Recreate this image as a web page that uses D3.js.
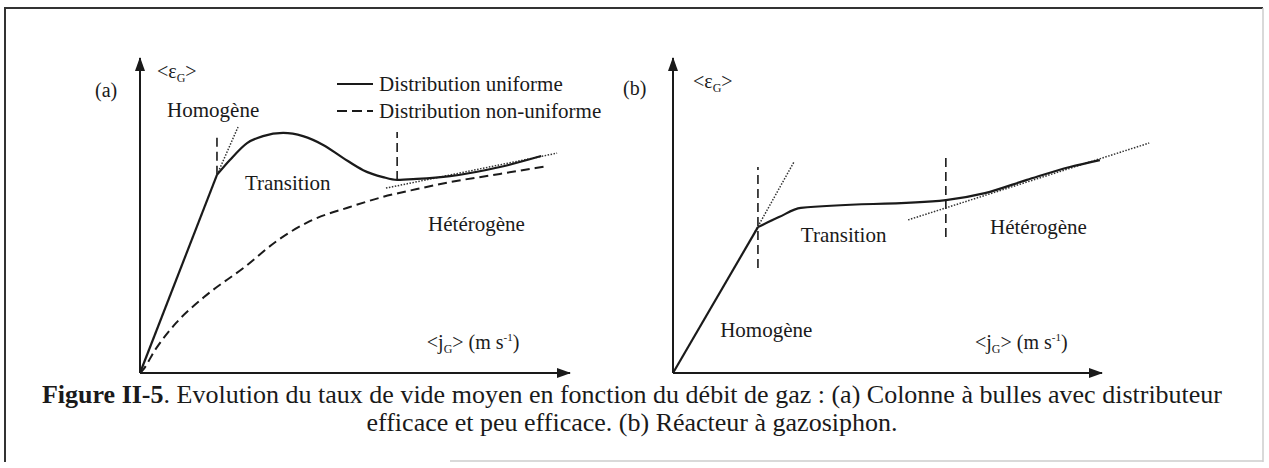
<!DOCTYPE html>
<html>
<head>
<meta charset="utf-8">
<script src="https://cdn.jsdelivr.net/npm/d3@7"></script>
<style>
  body { margin: 0; background: #fff; }
  svg { display: block; }
  text { font-family: "Liberation Serif", "Times New Roman", serif; fill: #1a1a1a; }
</style>
</head>
<body>
<svg id="chart" width="1269" height="468"></svg>
<script>
// values, both axes 0..100 (arbitrary units, no ticks)

// (a) bubble column
const aHomogene = [[0, 0], [17.9, 62.9]];
const aUniform = [[17.9, 62.9], [20.9, 67.6], [24.9, 73.0], [28.6, 75.2], [33.3, 76.2], [37.9, 75.2],
  [42.6, 72.4], [47.2, 68.3], [51.9, 64.4], [56.5, 62.2], [59.8, 61.3], [64.4, 61.6],
  [72.1, 62.5], [83.7, 65.4], [93.3, 68.9]];
const aNonUniform = [[0, 0], [0.7, 1.0], [3.5, 7.3], [8.4, 15.9], [14.9, 24.1], [24.4, 33.7],
  [32.1, 42.2], [39.5, 48.2], [48.8, 52.7], [56.5, 55.9], [64.4, 58.4], [72.1, 60.6],
  [83.7, 63.2], [94.7, 65.7]];
const aTangent = [[17.9, 62.9], [22.8, 78.1]];
const aAsymptote = [[57.2, 58.7], [97.0, 69.8]];
const aLimits = [[17.9, 62.9, 74.9], [59.8, 61.3, 76.5]]; // x, y from, y to

// (b) gas-lift reactor
const bCurve = [[0, 0], [19.8, 46.3], [24.7, 49.5], [29.8, 52.4], [63.6, 54.9], [72.7, 57.1],
  [82.5, 61.3], [92.5, 65.4], [99.5, 67.6]];
const bTangent = [[19.1, 44.8], [28.2, 67.0]];
const bAsymptote = [[54.8, 48.6], [111.0, 73.0]];
const bLimits = [[19.8, 33.3, 65.4], [63.6, 43.2, 68.6]];

const legendLabels = ["Distribution uniforme", "Distribution non-uniforme"];
const captionBold = "Figure II-5";
const captionLine1 = ". Evolution du taux de vide moyen en fonction du débit de gaz : (a) Colonne à bulles avec distributeur";
const captionLine2 = "efficace et peu efficace. (b) Réacteur à gazosiphon.";

const svg = d3.select("#chart");
const ink = "#1a1a1a";

// frame of the scanned figure
svg.append("path").attr("d", "M5,462V8H1263").attr("fill", "none").attr("stroke", "#333").attr("stroke-width", 2);
svg.append("line").attr("x1", 1263).attr("x2", 1263).attr("y1", 8).attr("y2", 462).attr("stroke", "#ccc").attr("stroke-width", 1.5);
svg.append("line").attr("x1", 450).attr("x2", 1263).attr("y1", 461).attr("y2", 461).attr("stroke", "#ccc").attr("stroke-width", 1.5);

svg.append("defs").append("marker")
  .attr("id", "arrow").attr("viewBox", "0 0 14 10").attr("refX", 13).attr("refY", 5)
  .attr("markerWidth", 14).attr("markerHeight", 10).attr("markerUnits", "userSpaceOnUse")
  .attr("orient", "auto")
  .append("path").attr("d", "M0,0L14,5L0,10Z").attr("fill", ink);

function axisLabel(g, x, y, sym, unit) {
  const t = g.append("text").attr("x", x).attr("y", y).style("font-size", "20px");
  t.append("tspan").text("<" + sym);
  t.append("tspan").text("G").style("font-size", "12px").attr("dy", 4);
  t.append("tspan").text(">").attr("dy", -4);
  if (unit) {
    t.append("tspan").text(" (m s");
    t.append("tspan").text("-1").style("font-size", "11px").attr("dy", -8);
    t.append("tspan").text(")").attr("dy", 8);
  }
}

function label(g, x, y, txt) {
  g.append("text").attr("x", x).attr("y", y).style("font-size", "21px").text(txt);
}

function panel(x, y, opts) {
  const g = svg.append("g");
  const line = d3.line().x(d => x(d[0])).y(d => y(d[1]));

  // axes with arrow heads
  g.append("line").attr("x1", x(0)).attr("y1", y(0)).attr("x2", x(0)).attr("y2", y(100))
    .attr("stroke", ink).attr("stroke-width", 2).attr("marker-end", "url(#arrow)");
  g.append("line").attr("x1", x(0)).attr("y1", y(0)).attr("x2", x(100)).attr("y2", y(0))
    .attr("stroke", ink).attr("stroke-width", 2).attr("marker-end", "url(#arrow)");

  // regime limits
  opts.limits.forEach(d => {
    g.append("line").attr("x1", x(d[0])).attr("x2", x(d[0])).attr("y1", y(d[1])).attr("y2", y(d[2]))
      .attr("stroke", ink).attr("stroke-width", 1.6).attr("stroke-dasharray", "9,5");
  });

  // dotted tangents
  [opts.tangent, opts.asymptote].forEach(d => {
    g.append("path").attr("d", line(d)).attr("fill", "none")
      .attr("stroke", "#333").attr("stroke-width", 1.5).attr("stroke-dasharray", "1.5,1.5");
  });

  return { g, line };
}

// ---- panel (a)
const xA = d3.scaleLinear().domain([0, 100]).range([140, 570]);
const yA = d3.scaleLinear().domain([0, 100]).range([373, 58]);
const pa = panel(xA, yA, { limits: aLimits, tangent: aTangent, asymptote: aAsymptote });

pa.g.append("path").attr("d", pa.line(aHomogene)).attr("fill", "none")
  .attr("stroke", ink).attr("stroke-width", 2.2);
pa.g.append("path").attr("d", pa.line.curve(d3.curveMonotoneX)(aUniform)).attr("fill", "none")
  .attr("stroke", ink).attr("stroke-width", 2.2).attr("stroke-linejoin", "round");
pa.g.append("path").attr("d", pa.line.curve(d3.curveMonotoneX)(aNonUniform)).attr("fill", "none")
  .attr("stroke", ink).attr("stroke-width", 2).attr("stroke-dasharray", "9,5");

pa.g.append("text").attr("x", 95).attr("y", 97).style("font-size", "20px").text("(a)");
axisLabel(pa.g, 157, 78, "ε", false);
axisLabel(pa.g, xA(66.7), yA(7.6), "j", true);
label(pa.g, xA(6.3), yA(81.3), "Homogène");
label(pa.g, xA(24.4), yA(58.1), "Transition");
label(pa.g, xA(67.0), yA(45.1), "Hétérogène");

// legend
const legend = pa.g.append("g");
legendLabels.forEach((lab, i) => {
  const ly = 84 + i * 27;
  legend.append("line").attr("x1", 337).attr("x2", 373).attr("y1", ly).attr("y2", ly)
    .attr("stroke", ink).attr("stroke-width", 2)
    .attr("stroke-dasharray", i ? "10,5" : null);
  legend.append("text").attr("x", 379).attr("y", ly + 7).style("font-size", "21px").text(lab);
});

// ---- panel (b)
const xB = d3.scaleLinear().domain([0, 100]).range([673, 1102]);
const yB = d3.scaleLinear().domain([0, 100]).range([373, 58]);
const pb = panel(xB, yB, { limits: bLimits, tangent: bTangent, asymptote: bAsymptote });

pb.g.append("path").attr("d", pb.line.curve(d3.curveLinear)(bCurve.slice(0, 2))).attr("fill", "none")
  .attr("stroke", ink).attr("stroke-width", 2.2);
pb.g.append("path").attr("d", pb.line.curve(d3.curveMonotoneX)(bCurve.slice(1))).attr("fill", "none")
  .attr("stroke", ink).attr("stroke-width", 2.2);

pb.g.append("text").attr("x", 623).attr("y", 95).style("font-size", "20px").text("(b)");
axisLabel(pb.g, 693, 88, "ε", false);
axisLabel(pb.g, xB(70.4), yB(7.6), "j", true);
label(pb.g, xB(11.0), yB(11.4), "Homogène");
label(pb.g, xB(29.8), yB(41.6), "Transition");
label(pb.g, xB(73.9), yB(44.1), "Hétérogène");

// caption
const cap = svg.append("text").attr("x", 632).attr("y", 403).attr("text-anchor", "middle").style("font-size", "26px");
cap.append("tspan").text(captionBold).style("font-weight", "bold");
cap.append("tspan").text(captionLine1);
svg.append("text").attr("x", 632).attr("y", 431).attr("text-anchor", "middle").style("font-size", "26px").text(captionLine2);
</script>
</body>
</html>
